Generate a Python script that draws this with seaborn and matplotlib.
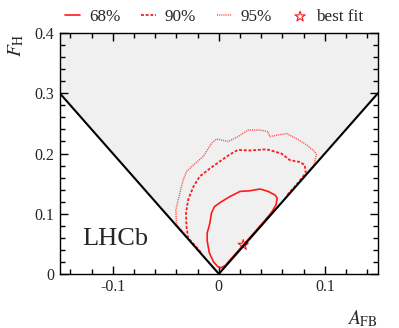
import numpy as np
import pandas as pd
import matplotlib
matplotlib.use("Agg")
import matplotlib.pyplot as plt
from matplotlib.ticker import MultipleLocator
import seaborn as sns

# 68% contour (A_FB, F_H)
c68_x = [0.045, 0.030, 0.015, 0.006, 0.002, -0.001, -0.005, -0.009, -0.011, -0.011, -0.0085,
         -0.007, -0.004, 0.0025, 0.010, 0.020, 0.029, 0.039, 0.0465, 0.053, 0.055, 0.054, 0.050, 0.045]
c68_y = [0.092, 0.062, 0.032, 0.014, 0.010, 0.012, 0.020, 0.035, 0.055, 0.068, 0.084,
         0.101, 0.112, 0.120, 0.128, 0.137, 0.138, 0.141, 0.137, 0.131, 0.126, 0.115, 0.103, 0.092]

# 90% contour
c90_x = [-0.017, -0.024, -0.029, -0.0305, -0.031, -0.029, -0.024, -0.018, -0.0085, 0.001, 0.010,
         0.018, 0.029, 0.045, 0.059, 0.067, 0.076, 0.081, 0.082, 0.075, 0.064]
c90_y = [0.036, 0.050, 0.060, 0.078, 0.101, 0.123, 0.145, 0.162, 0.175, 0.187, 0.198,
         0.206, 0.205, 0.207, 0.200, 0.189, 0.186, 0.181, 0.168, 0.152, 0.130]

# 95% contour
c95_x = [-0.030, -0.040, -0.0406, -0.0368, -0.0337, -0.0305, -0.024, -0.0148, -0.0069, -0.0022,
         0.0088, 0.018, 0.0277, 0.0387, 0.0465, 0.048, 0.056, 0.064, 0.073, 0.083, 0.0906, 0.092,
         0.0896, 0.080]
c95_y = [0.062, 0.082, 0.106, 0.134, 0.156, 0.170, 0.181, 0.195, 0.217, 0.224,
         0.220, 0.228, 0.239, 0.239, 0.236, 0.228, 0.231, 0.233, 0.225, 0.214, 0.203, 0.198,
         0.181, 0.162]

best_x = [0.023]
best_y = [0.048]

# physical boundary F_H = 2|A_FB|
bound_x = [-0.15, 0.0, 0.15]
bound_y = [0.30, 0.0, 0.30]

sns.set_style("ticks")
plt.rcParams['font.family'] = ['Liberation Serif', 'DejaVu Serif']
plt.rcParams['mathtext.fontset'] = 'stix'
plt.rcParams['font.size'] = 11.5

fig = plt.figure(figsize=(3.99, 3.28), dpi=100)
ax = fig.add_axes([0.150, 0.165, 0.797, 0.734])

# allowed region shading
ax.fill_between(bound_x, bound_y, 0.4, color='#f0f0f0', lw=0, zorder=0)

def draw(xs, ys, **kw):
    df = pd.DataFrame({'x': xs, 'y': ys})
    sns.lineplot(data=df, x='x', y='y', sort=False, estimator=None, ax=ax, **kw)

draw(c68_x, c68_y, color='#ff1a1a', lw=1.2, label='68%', zorder=3)
draw(c90_x, c90_y, color='#ff1a1a', lw=1.3, linestyle=(0, (1.6, 1.0)), label='90%', zorder=3)
draw(c95_x, c95_y, color='#ff5050', lw=1.1, linestyle=(0, (0.7, 0.7)), label='95%', zorder=3)
sns.scatterplot(x=best_x, y=best_y, marker='*', s=60, facecolor='none', edgecolor='#ff1a1a',
                linewidth=0.8, label='best fit', ax=ax, zorder=4)
draw(bound_x, bound_y, color='black', lw=1.5, legend=False, zorder=5)

ax.set_xlim(-0.15, 0.15)
ax.set_ylim(0, 0.4)
ax.set_xticks([-0.1, 0, 0.1], ['-0.1', '0', '0.1'])
ax.set_yticks([0, 0.1, 0.2, 0.3, 0.4], ['0', '0.1', '0.2', '0.3', '0.4'])
ax.xaxis.set_minor_locator(MultipleLocator(0.02))
ax.yaxis.set_minor_locator(MultipleLocator(0.02))
ax.tick_params(which='both', direction='in', top=True, right=True, width=1, color='black',
               labelsize=11.5, pad=4)
ax.tick_params(which='major', length=6)
ax.tick_params(which='minor', length=3.5)
for s in ax.spines.values():
    s.set_linewidth(1)
    s.set_color('black')

ax.set_xlabel(r'$A_{\rm FB}$', loc='right', fontsize=14, labelpad=9)
ax.set_ylabel(r'$F_{\rm H}$', loc='top', fontsize=14, labelpad=6)
ax.text(-0.129, 0.048, 'LHCb', fontsize=19)

handles, labels = ax.get_legend_handles_labels()
ax.get_legend().remove()
fig.legend(handles, labels, loc='center', bbox_to_anchor=(0.537, 0.948), ncol=4, frameon=False,
           fontsize=12.3, handlelength=0.9, handletextpad=0.5, columnspacing=1.2, borderpad=0)

fig.savefig('out.png', dpi=100)
